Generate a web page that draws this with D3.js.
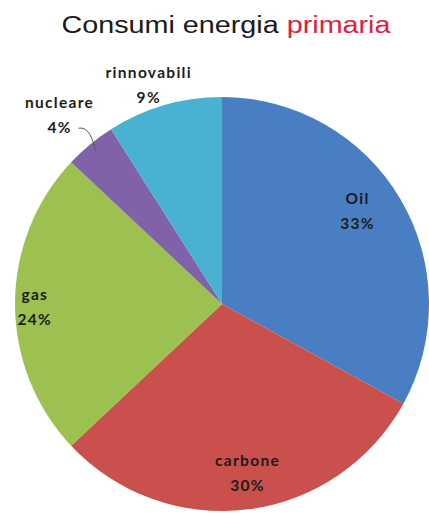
<!DOCTYPE html>
<html>
<head>
<meta charset="utf-8">
<script src="https://cdn.jsdelivr.net/npm/d3@7"></script>
<style>
  body { margin: 0; background: #fff; }
  svg { display: block; }
</style>
</head>
<body>
<div id="chart"></div>
<script>
// data
const sources = ["Oil", "carbone", "gas", "nucleare", "rinnovabili"];
const shares = [33, 30, 24, 4, 9];
const colors = ["#4a7ec2", "#c9504c", "#9dc150", "#7f62a8", "#49b1d2"];

// how far out each label sits (fraction of radius) plus a small nudge
const labelR = { Oil: 0.80, carbone: 0.83, gas: 0.89, nucleare: 1.14, rinnovabili: 1.13 };
const labelNudge = { Oil: [-7, -12], carbone: [4, -4], gas: [-3, 0], nucleare: [-12, -10], rinnovabili: [-8, 3] };

const width = 429, height = 514;
const cx = 222, cy = 304, radius = 207;

const svg = d3.select("#chart").append("svg")
    .attr("width", width)
    .attr("height", height);

// title (the original is drawn quite wide)
const title = svg.append("text")
    .attr("text-anchor", "middle")
    .attr("transform", "translate(226,33) scale(1.25,1)")
    .style("font-family", "'Liberation Sans', Arial, sans-serif")
    .style("font-size", "23px")
    .style("fill", "#1a1a1a");
title.append("tspan").text("Consumi energia ");
title.append("tspan").style("fill", "#e0203c").text("primaria");

const data = sources.map((s, i) => ({ name: s, value: shares[i], color: colors[i] }));

const pie = d3.pie().sort(null).value(d => d.value);
const arc = d3.arc().innerRadius(0).outerRadius(radius);

const g = svg.append("g").attr("transform", `translate(${cx},${cy})`);

const arcs = pie(data);

g.selectAll("path.slice")
    .data(arcs)
    .enter().append("path")
    .attr("class", "slice")
    .attr("d", arc)
    .style("fill", d => d.data.color);

function labelPos(d) {
    const a = (d.startAngle + d.endAngle) / 2;
    const r = radius * labelR[d.data.name];
    const n = labelNudge[d.data.name];
    return [Math.sin(a) * r + n[0], -Math.cos(a) * r + n[1]];
}

// labels
const lab = g.selectAll("g.lab")
    .data(arcs)
    .enter().append("g")
    .attr("class", "lab")
    .attr("transform", d => `translate(${labelPos(d)})`);

const labelStyle = sel => sel
    .attr("text-anchor", "middle")
    .style("font-family", "Lato, 'Open Sans', sans-serif")
    .style("font-weight", "bold")
    .style("font-size", "15.5px")
    .style("letter-spacing", "1.3px")
    .style("fill", "#1c1c1c");

lab.append("text")
    .call(labelStyle)
    .attr("y", -4)
    .text(d => d.data.name);

lab.append("text")
    .call(labelStyle)
    .attr("y", 21)
    .text(d => d.data.value + "%");

// leader line for the small nucleare slice
const nuc = arcs[3];
const na = (nuc.startAngle + nuc.endAngle) / 2;
const edge = [Math.sin(na) * radius * 0.96, -Math.cos(na) * radius * 0.96];
const np = labelPos(nuc);
const start = [np[0] + 19, np[1] + 16];
g.append("path")
    .attr("d", `M${start[0]},${start[1]} Q${start[0] + 12},${start[1] - 2} ${edge[0]},${edge[1]}`)
    .style("fill", "none")
    .style("stroke", "#555")
    .style("stroke-width", 1);
</script>
</body>
</html>
